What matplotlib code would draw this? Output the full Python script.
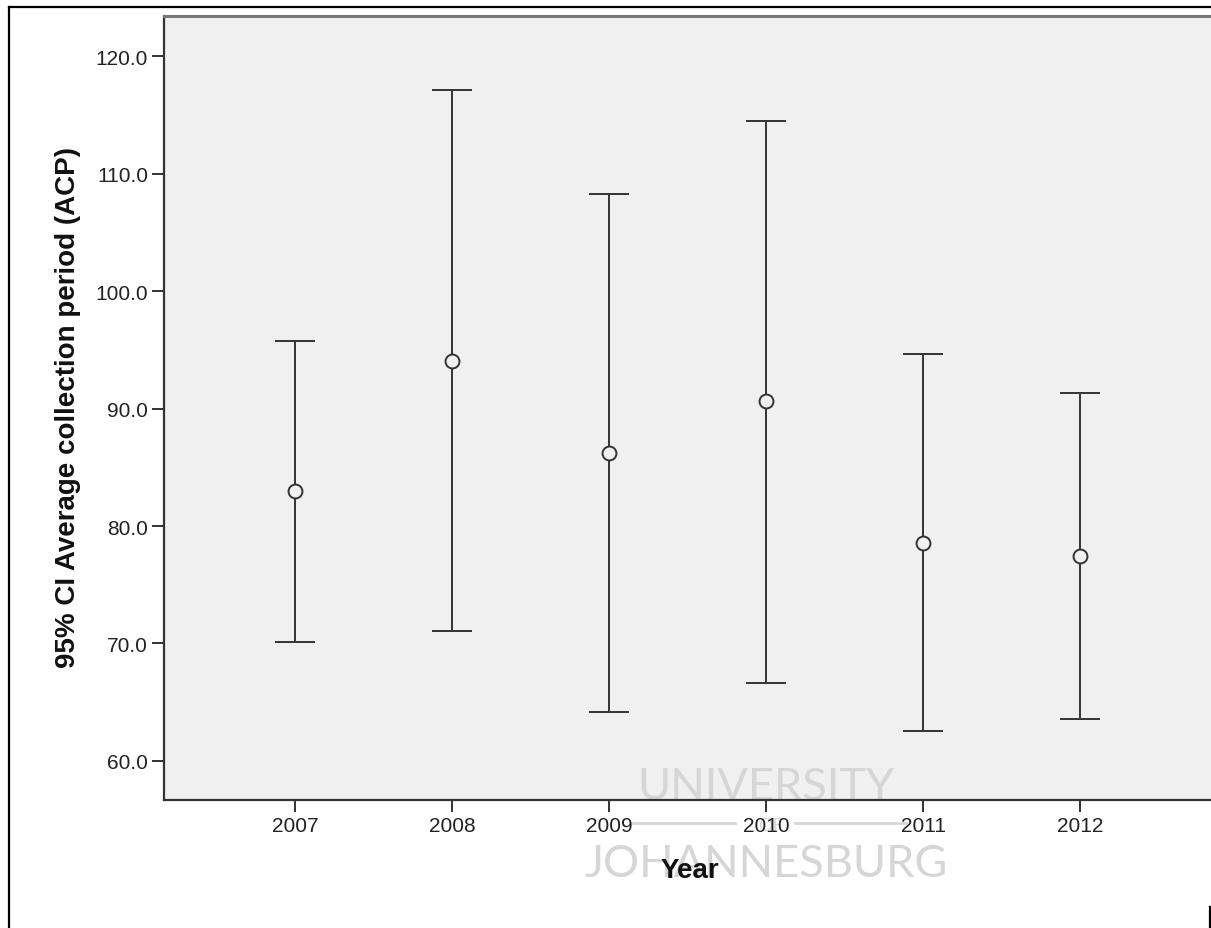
import matplotlib
matplotlib.use('Agg')
import matplotlib.pyplot as plt
from matplotlib.lines import Line2D

years = ['2007', '2008', '2009', '2010', '2011', '2012']
means = [82.98, 94.04, 86.21, 90.60, 78.55, 77.45]
upper = [95.74, 117.11, 108.26, 114.47, 94.64, 91.32]
lower = [70.17, 71.06, 64.13, 66.68, 62.55, 63.57]
yticks = [60.0, 70.0, 80.0, 90.0, 100.0, 110.0, 120.0]
ylabel = '95% CI Average collection period (ACP)'
xlabel = 'Year'

W, H = 1211, 929
fig = plt.figure(figsize=(W / 100, H / 100), dpi=100)
plt.rcParams['font.family'] = ['Liberation Sans', 'DejaVu Sans']

L, R, T, B = 164, 1211, 16.5, 801
ax = fig.add_axes([L / W, 1 - B / H, (R - L) / W, (B - T) / H])
ax.set_facecolor('#f0f0f0')

x = list(range(len(years)))
yerr = [[m - lo for m, lo in zip(means, lower)], [u - m for m, u in zip(means, upper)]]
ax.errorbar(x, means, yerr=yerr, fmt='o', color='#333333', ecolor='#333333',
            elinewidth=1.4, capsize=14.5, capthick=2.0, markersize=10,
            markerfacecolor='#f0f0f0', markeredgecolor='#333333', markeredgewidth=1.4,
            zorder=3)

ax.set_xlim(-0.834, 5.834)
ax.set_ylim(56.68, 123.45)
ax.set_xticks(x)
ax.set_xticklabels(years)
ax.set_yticks(yticks)
ax.set_yticklabels([f'{v:.1f}' for v in yticks])
ax.tick_params(axis='both', direction='out', length=8.5, width=1.4, color='#333333',
               labelsize=15, labelcolor='#222222', pad=3)

for s in ['left', 'bottom']:
    ax.spines[s].set_color('#333333')
    ax.spines[s].set_linewidth(1.6)
ax.spines['top'].set_color('#777777')
ax.spines['top'].set_linewidth(2.2)
ax.spines['right'].set_visible(False)

# axis labels
fig.text(68 / W, 1 - 408 / H, ylabel, rotation=90, ha='center', va='center',
         fontsize=20, fontweight='bold', color='#111111')
fig.text(690 / W, 1 - 878 / H, xlabel, ha='center', va='baseline',
         fontsize=20, fontweight='bold', color='#111111')

# watermark (light text behind axis elements)
wm = '#d6d6d6'
ax.text(766 / W, 1 - 800 / H, 'UNIVERSITY', transform=fig.transFigure, ha='center',
        va='baseline', fontsize=32.5, color=wm, family=['Lato', 'DejaVu Sans'],
        zorder=0.5, clip_on=False)
ax.text(766 / W, 1 - 877 / H, 'JOHANNESBURG', transform=fig.transFigure, ha='center',
        va='baseline', fontsize=32.5, color=wm, family=['Lato', 'DejaVu Sans'],
        zorder=0.5, clip_on=False)
ax.text(770 / W, 1 - 831 / H, 'OF', transform=fig.transFigure, ha='center',
        va='baseline', fontsize=13, color=wm, family=['Lato', 'DejaVu Sans'],
        zorder=0.5, clip_on=False)
for x0, x1 in [(633, 735), (795, 906)]:
    fig.add_artist(Line2D([x0 / W, x1 / W], [1 - 824 / H, 1 - 824 / H],
                          transform=fig.transFigure, color=wm, lw=2, zorder=0.5))

# page border lines
fig.add_artist(Line2D([8.5 / W, 8.5 / W], [0, 1 - 7.5 / H], transform=fig.transFigure,
                      color='black', lw=1.6))
fig.add_artist(Line2D([8.5 / W, 1], [1 - 7.5 / H, 1 - 7.5 / H], transform=fig.transFigure,
                      color='black', lw=1.6))
fig.add_artist(Line2D([1210 / W, 1210 / W], [0, 1 - 908 / H], transform=fig.transFigure,
                      color='black', lw=1.6))

fig.savefig('out.png', dpi=100, facecolor='white')
